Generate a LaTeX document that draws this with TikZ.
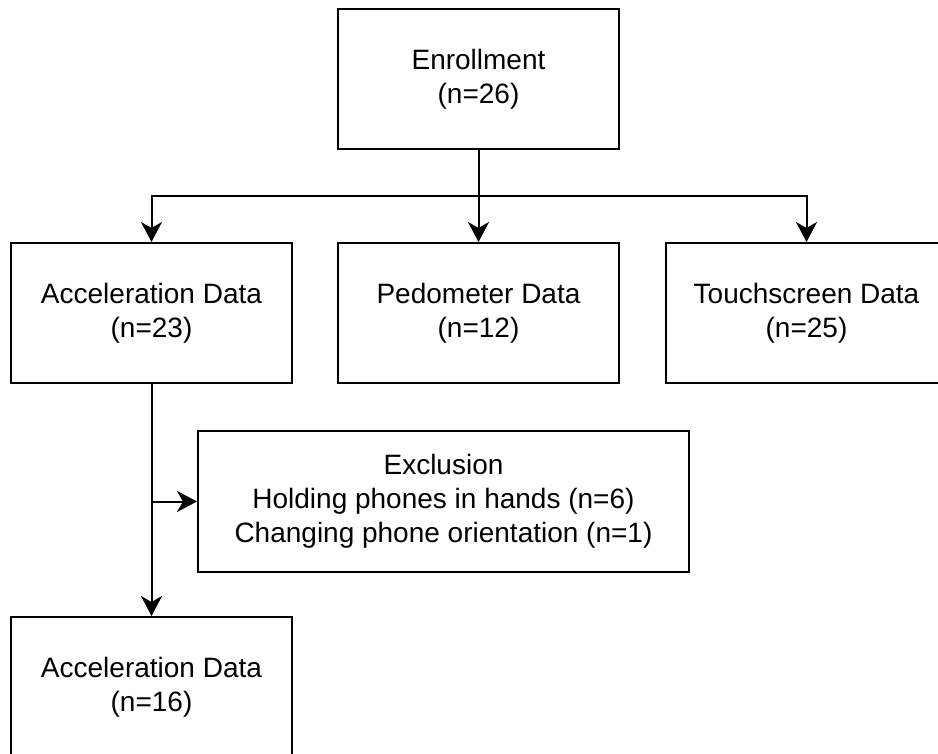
\documentclass[tikz,border=0pt]{standalone}
\usepackage{fontspec}
\setmainfont{Liberation Sans}
\usetikzlibrary{arrows.meta,calc}
\tikzset{
	databox/.style={draw, line width=2pt, minimum width=281pt, minimum height=140pt, inner sep=0pt, align=center, font=\fontsize{28}{34}\selectfont},
	flow/.style={line width=2pt, -{Stealth[length=20pt,width=21pt,inset=6pt]}}
}
\newcommand{\drawbox}[4]{
	\node[databox] (#1) at (#2,#3) {#4};
}

\begin{document}
\begin{tikzpicture}[x=1pt,y=-1pt]
	\useasboundingbox (0,0) rectangle (938,754);
	\clip (0,0) rectangle (938,754);
	\drawbox{enrol}{478.5}{79}{Enrollment\\(n=26)}
	\drawbox{accA}{151.5}{313}{Acceleration Data\\(n=23)}
	\drawbox{pedo}{478.5}{313}{Pedometer Data\\(n=12)}
	\drawbox{touch}{806.5}{313}{Touchscreen Data\\(n=25)}
	\drawbox{accB}{151.5}{687}{Acceleration Data\\(n=16)}
	\node[databox, minimum width=491pt, minimum height=141pt] (excl) at (443.5,501.5) {Exclusion\\Holding phones in hands (n=6)\\Changing phone orientation (n=1)};
	\coordinate (split) at (478.5,196);
	\coordinate (branch) at (accA.south |- excl.west);
	\draw[line width=2pt] (enrol) -- (split);
	\foreach \t in {accA,pedo,touch} {
		\draw[flow] (split) -| (\t);
	}
	\draw[flow] (accA) -- (accB);
	\draw[flow] (branch) -- (excl);
\end{tikzpicture}
\end{document}
